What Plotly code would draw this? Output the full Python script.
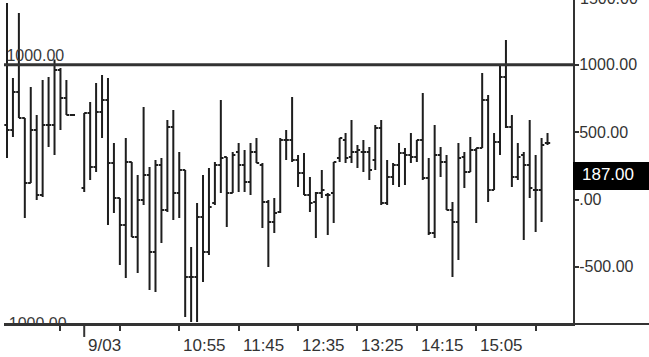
import plotly.graph_objects as go

# bar index (previous session bars, then 9/03 session bars, 5-minute bars)
idx = list(range(-13, -1)) + list(range(0, 79))

opens = [553, 516, 798, 605, 123, 516, 33, 553, 553, 962, 754, 627,
         85, 642, 241, 650, 739, 271, 11, -189, 278, -278, -4, 182, -390, 256, -78, 538, 48,
         219, -576, -576, -130, -390, -26, 256, 316, 48, 353, 256, 130, 353, 256, -19, -167,
         -93, 442, 442, 293, 197, 33, -19, 48, 33, 48, 308, 442, 316, 353, 353, 353, 293,
         531, -26, 167, 256, 345, 330, 316, 442, 160, -249, 330, 278, -78, -167, 316, 204,
         368, 382, 739, 71, 427, 910, 538, 167, 330, 256, 71, 71, 420]
highs = [1459, 902, 1385, 605, 835, 627, 887, 910, 1040, 976, 887, 627,
         642, 724, 865, 925, 902, 420, 11, 457, 278, 182, 687, 241, 293, 308, 590, 665, 353,
         219, -353, -26, 182, 234, 278, 739, 316, 353, 420, 368, 420, 457, 271, -4, 11,
         457, 516, 761, 330, 345, 167, 56, 219, 48, 278, 457, 494, 590, 405, 442, 390, 553,
         590, 293, 271, 420, 382, 494, 442, 791, 308, 553, 390, 330, -19, 420, 353, 464,
         382, 939, 776, 494, 999, 1184, 627, 420, 353, 590, 330, 457, 494]
lows = [308, 464, 605, -137, 123, -4, 19, 390, 330, 516, 627, 627,
        56, 145, 204, 457, -189, -100, -486, -583, -278, -546, -41, -672, -687, -323, -93, -152, -137,
        -873, -910, -910, -613, -412, -41, 48, -204, 48, 56, 56, 33, 271, -212, -501, -249,
        -100, 293, 278, 93, 33, -93, -286, 11, -264, -175, 278, 271, 271, 234, 204, 145, 219,
        -41, -41, 108, 93, 108, 271, 278, 145, -264, -286, 167, -78, -576, -449, 85, 204,
        -175, 382, -19, 71, 330, 531, 93, 145, -301, 11, -241, -167, 405]
closes = [516, 798, 605, 123, 516, 33, 553, 553, 962, 754, 627, 627,
          642, 241, 650, 739, 271, 11, -189, 278, -278, -4, 182, -390, 256, -78, 538, 48, 219,
          -576, -576, -130, -390, -56, 256, 308, 48, 330, 256, 130, 353, 271, -19, -167, -100,
          442, 442, 293, 197, 33, -26, 48, 71, 33, 278, 457, 308, 353, 368, 353, 219, 531,
          -26, 167, 256, 345, 330, 316, 442, 160, -249, 330, 278, -78, -167, 308, 204, 368,
          382, 739, 71, 427, 910, 538, 167, 316, 256, 85, 71, 405, 420]

tick_idx = [-4, 6, 16, 26, 36, 46, 56, 66, 76]
label_idx = [0, 16, 26, 36, 46, 56, 66]
label_txt = ["9/03", "10:55", "11:45", "12:35", "13:25", "14:15", "15:05"]

y_tickvals = [-500, 0, 500, 1000]
y_ticktext = ["-500.00", ".00", "500.00", "1000.00"]
top_tick_text = "1500.00"

ref_level = 1000
last_value = 187.00

FONT = "Liberation Sans, Arial, sans-serif"
INK = "#1e1e1e"

fig = go.Figure()
fig.add_trace(go.Ohlc(
    x=idx, open=opens, high=highs, low=lows, close=closes,
    increasing=dict(line=dict(color=INK, width=2)),
    decreasing=dict(line=dict(color=INK, width=2)),
    tickwidth=0.45, showlegend=False, hoverinfo="skip"))

# clipped labels of the level lines
fig.add_trace(go.Scatter(
    x=[-13.1, -12.7], y=[ref_level, -990], mode="text",
    text=["1000.00", "1000.00"], textposition="top right",
    textfont=dict(family=FONT, size=16, color="#3a3a3a"),
    cliponaxis=True, showlegend=False, hoverinfo="skip"))

fig.add_shape(type="line", xref="paper", x0=0, x1=1, yref="y", y0=ref_level, y1=ref_level,
              line=dict(color="#333", width=3))
fig.add_shape(type="line", xref="paper", x0=0, x1=1.14, yref="paper", y0=0, y1=0,
              line=dict(color="#333", width=2))
# long day-break tick
fig.add_shape(type="line", xref="x", x0=0, x1=0, yref="paper", y0=0, y1=-0.04,
              line=dict(color="#333", width=2))
# top tick label, partly outside the page as in the original
fig.add_annotation(xref="paper", x=1.0, xanchor="left", xshift=5, yref="paper", y=1.0,
                   yanchor="middle", yshift=2, text=top_tick_text, showarrow=False,
                   font=dict(family=FONT, size=16, color="#333"))
# last value box
fig.add_shape(type="rect", xref="paper", x0=1.0, x1=1.14, yref="y", y0=71, y1=278,
              fillcolor="black", line=dict(width=0), layer="above")
fig.add_annotation(xref="paper", x=1.0, xanchor="left", xshift=7, yref="y", y=last_value,
                   text=f"{last_value:.2f}", showarrow=False,
                   font=dict(family=FONT, size=17, color="white"))

for xi, t in zip(label_idx, label_txt):
    fig.add_annotation(xref="x", x=xi, xanchor="left", xshift=2, yref="paper", y=0,
                       yanchor="top", yshift=-10, text=t, showarrow=False,
                       font=dict(family=FONT, size=17, color="#333"))

fig.update_layout(
    width=649, height=357,
    margin=dict(l=4, r=76, t=0, b=33),
    paper_bgcolor="white", plot_bgcolor="white",
    xaxis=dict(range=[-13.505, 82.29], rangeslider=dict(visible=False),
               showgrid=False, zeroline=False, showline=True, linecolor="#333", linewidth=2,
               tickmode="array", tickvals=tick_idx, ticktext=[""] * len(tick_idx),
               ticks="outside", ticklen=5, tickwidth=2, tickcolor="#333"),
    yaxis=dict(range=[-924.5, 1481.4], side="right",
               showgrid=False, zeroline=False, showline=True, linecolor="#333", linewidth=2,
               tickmode="array", tickvals=y_tickvals, ticktext=y_ticktext,
               ticks="outside", ticklen=4, tickwidth=2, tickcolor="#333",
               ticklabelstandoff=-3,
               tickfont=dict(family=FONT, size=16, color="#333")),
)

fig.write_html("out.html", config={"displayModeBar": False},
               post_script="document.body.style.margin='0px';")
